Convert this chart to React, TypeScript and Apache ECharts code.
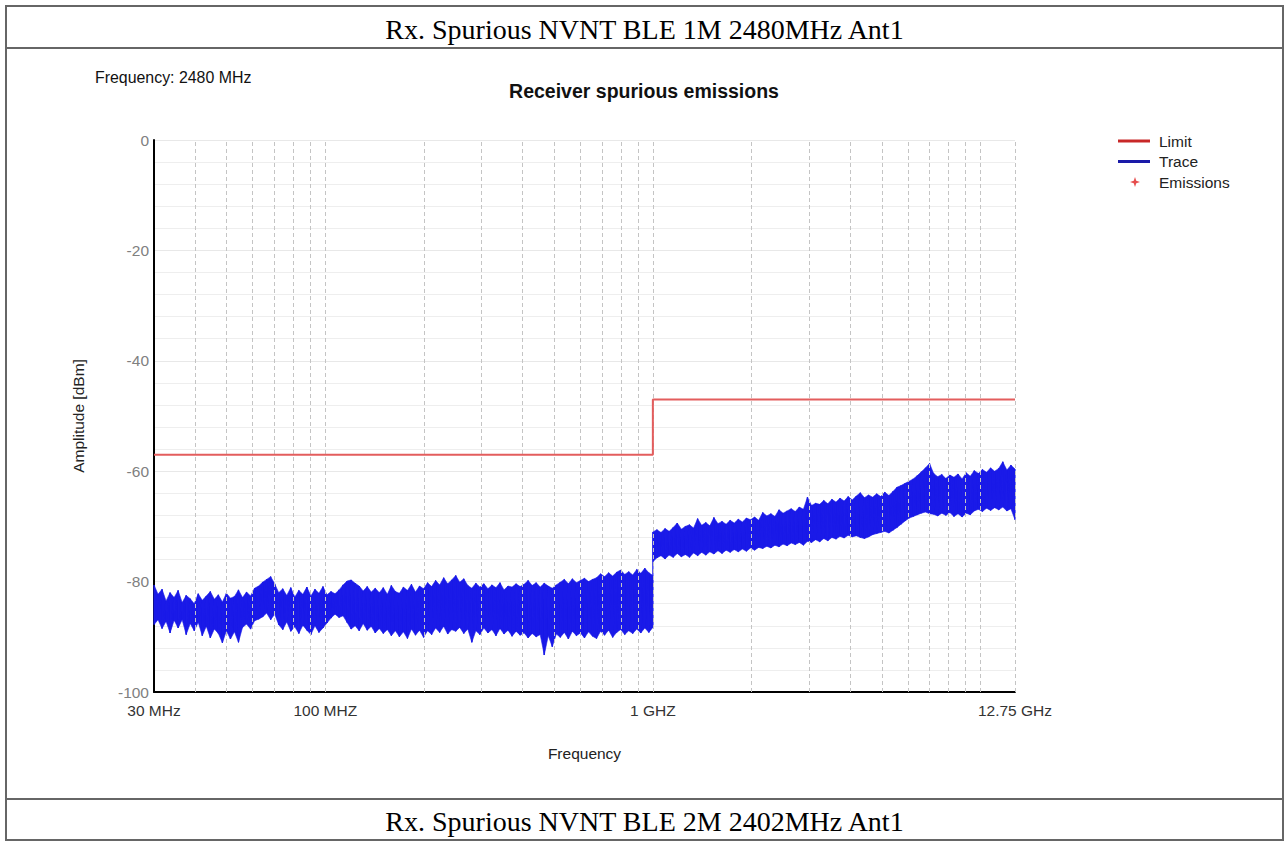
import React, { useEffect, useRef } from "react";
import * as echarts from "echarts";

// ---- Data ----
const headerTitle = "Rx. Spurious NVNT BLE 1M 2480MHz Ant1";
const footerTitle = "Rx. Spurious NVNT BLE 2M 2402MHz Ant1";
const chartTitle = "Receiver spurious emissions";
const freqNote = "Frequency: 2480 MHz";

const yMin = -100;
const yMax = 0;
const yStep = 20;

const xMinMHz = 30;
const xMaxMHz = 12750;

const xTickFreqs = [30, 100, 1000, 12750];
const xTickLabels = ["30 MHz", "100 MHZ", "1 GHZ", "12.75 GHz"];

const gridFreqs = [
  40, 50, 60, 70, 80, 90, 100, 200, 300, 400, 500, 600, 700, 800, 900, 1000,
  2000, 3000, 4000, 5000, 6000, 7000, 8000, 9000, 10000, 12750,
];

const limitFreq = [30, 1000, 1000, 12750];
const limitDbm = [-57, -57, -47, -47];

// Sweep 1: 30 MHz - 1 GHz, peak / floor per display bin (dBm)
const sweep1Start = 30;
const sweep1Stop = 1000;
const sweep1Peak = [
  -80.6, -82.3, -81.4, -83.5, -82.0, -82.9, -81.6, -83.8, -82.5, -83.1,
  -84.0, -82.2, -83.4, -82.6, -81.8, -83.2, -82.4, -83.7, -82.1, -83.0,
  -82.7, -81.5, -82.9, -81.9, -82.6, -81.2, -80.8, -80.1, -79.6, -79.1,
  -80.4, -82.0, -81.3, -82.5, -81.1, -82.8, -81.6, -82.3, -81.0, -82.6,
  -81.4, -82.1, -80.9, -82.4, -81.8, -82.2, -81.5, -80.6, -79.9, -79.7,
  -80.3, -80.8, -81.7, -80.9, -81.9, -81.2, -82.0, -81.1, -82.3, -80.7,
  -81.8, -82.1, -81.0, -81.6, -80.5, -81.9, -80.8, -81.3, -80.2, -80.9,
  -79.8, -80.6, -79.3, -80.4, -79.7, -78.9, -80.1, -79.5, -80.7, -81.2,
  -80.3, -81.0, -80.4, -81.3, -80.6, -81.1, -80.2, -81.5, -80.8, -81.0,
  -80.4, -80.9, -80.5, -79.8, -80.7, -80.2, -81.0, -80.3, -80.8, -81.2,
  -80.6, -80.1, -79.6, -80.4, -79.5, -80.2, -79.8, -79.4, -80.0, -79.6,
  -79.3, -78.6, -79.1, -78.4, -79.0, -78.3, -77.9, -78.7, -78.2, -78.8,
  -77.8, -78.5, -77.6, -78.4, -78.9,
];
const sweep1Floor = [
  -87.8, -86.9, -88.5, -87.2, -89.3, -87.0, -88.4, -86.9, -89.6, -87.6,
  -88.9, -87.4, -89.8, -88.1, -90.2, -88.6, -89.4, -91.1, -88.9, -90.4,
  -89.1, -91.0, -88.3, -87.7, -88.6, -87.1, -86.8, -86.4, -85.7, -86.9,
  -85.9, -87.8, -88.7, -87.3, -89.0, -88.2, -89.4, -87.9, -88.8, -89.6,
  -88.0, -89.2, -88.4, -87.5, -86.6, -85.9, -86.5, -86.2, -87.4, -88.6,
  -88.0, -88.9, -87.6, -88.8, -88.1, -89.3, -88.5, -89.4, -88.7, -89.8,
  -88.9, -90.0, -89.1, -90.3, -88.6, -89.7, -88.8, -90.1, -88.9, -89.6,
  -88.4, -89.2, -88.1, -89.5, -88.7, -89.0, -88.3, -89.4, -88.6, -91.0,
  -88.9, -89.6, -88.4, -89.3, -88.7, -89.8, -88.5, -89.5, -88.8, -89.9,
  -89.0, -89.7, -89.3, -90.2, -89.4, -90.0, -89.6, -93.3, -89.8, -91.8,
  -89.5, -90.1, -89.2, -90.4, -89.0, -89.8, -89.3, -90.2, -89.1, -89.9,
  -90.3, -89.0, -89.7, -88.8, -90.1, -89.2, -88.7, -89.6, -88.9, -89.4,
  -88.6, -89.3, -88.4, -89.2, -88.3,
];

// Sweep 2: 1 GHz - 12.75 GHz
const sweep2Start = 1000;
const sweep2Stop = 12750;
const sweep2Peak = [
  -71.0, -70.6, -71.1, -70.4, -70.9, -70.2, -69.4, -70.5, -70.0, -69.7,
  -70.3, -68.6, -69.8, -69.3, -69.9, -68.4, -69.5, -69.1, -69.6, -68.9,
  -69.4, -68.7, -69.2, -68.5, -68.8, -68.3, -68.9, -67.5, -68.1, -67.7,
  -68.2, -67.0, -67.6, -67.2, -66.8, -67.3, -66.5, -66.9, -64.7, -66.2,
  -65.8, -66.0, -65.3, -65.9, -65.1, -65.6, -64.9, -65.4, -64.6, -65.2,
  -64.5, -63.9, -64.8, -64.3, -64.7, -64.1, -64.6, -63.8, -64.4, -63.7,
  -62.9, -62.6, -62.2, -61.8, -61.4, -60.8, -60.1, -59.4, -58.6, -60.4,
  -61.0, -60.6, -61.3, -60.7, -61.1, -60.5, -61.4, -60.3, -60.9, -59.9,
  -60.4, -59.7, -60.2, -59.4, -60.0, -59.5, -58.3, -59.8, -58.9, -59.6,
];
const sweep2Floor = [
  -76.4, -75.7, -75.3, -75.9, -75.2, -75.6, -74.9, -75.5, -75.1, -75.6,
  -74.8, -75.3, -74.7, -75.2, -74.6, -75.0, -74.4, -74.9, -74.3, -74.7,
  -74.2, -74.6, -74.1, -74.5, -73.9, -74.3, -73.8, -74.0, -73.6, -73.9,
  -73.4, -73.7, -73.2, -73.5, -73.0, -73.3, -72.9, -73.4, -72.7, -72.9,
  -72.4, -72.8, -72.2, -72.6, -72.0, -72.3, -71.8, -72.1, -71.6, -71.9,
  -71.7, -72.0, -72.2, -71.9, -71.5, -71.3, -71.1, -70.9, -71.2, -70.7,
  -70.2, -69.6, -69.0, -68.5, -68.2, -67.9, -67.6, -67.4, -67.7, -67.8,
  -68.1, -67.6, -68.0, -67.5, -68.2, -67.7, -68.3, -67.6, -67.9, -67.2,
  -66.9, -67.3, -66.7, -67.1, -66.6, -67.0, -66.5, -67.2, -66.8, -68.8,
];

// ---- Helpers ----
function sweepFreqs(start: number, stop: number, n: number): number[] {
  const out: number[] = [];
  for (let i = 0; i < n; i++) out.push(start * Math.pow(stop / start, i / (n - 1)));
  return out;
}

type Bin = { f: number; peak: number; floor: number };

function sweepBins(start: number, stop: number, peak: number[], floor: number[]): Bin[] {
  return sweepFreqs(start, stop, peak.length).map((f, i) => ({ f, peak: peak[i], floor: floor[i] }));
}

const SANS = '"Liberation Sans", Arial, sans-serif';
const SERIF = '"Liberation Serif", "Times New Roman", serif';
const TRACE_BLUE = "#1a1ae8";

export default function App() {
  const ref = useRef<HTMLDivElement>(null);

  useEffect(() => {
    if (!ref.current) return;
    const chart = echarts.init(ref.current, undefined, { renderer: "svg" });

    const sweeps = [
      sweepBins(sweep1Start, sweep1Stop, sweep1Peak, sweep1Floor),
      sweepBins(sweep2Start, sweep2Stop, sweep2Peak, sweep2Floor),
    ];

    // zig-zag trace line (peak/floor per bin)
    const traceLine: number[][] = [];
    // band segments: [f0, peak0, floor0, f1, peak1, floor1]
    const bandSegs: number[][] = [];
    sweeps.forEach((bins) => {
      bins.forEach((b, i) => {
        traceLine.push([b.f, b.peak]);
        traceLine.push([b.f, b.floor]);
        if (i < bins.length - 1) {
          const n = bins[i + 1];
          bandSegs.push([b.f, b.peak, b.floor, n.f, n.peak, n.floor]);
        }
      });
    });

    const markData: any[] = [];
    markData.push({
      xAxis: xTickFreqs[0],
      lineStyle: { color: "rgba(0,0,0,0)" },
      label: { show: true, formatter: xTickLabels[0] },
    });
    gridFreqs.forEach((f) => {
      const li = xTickFreqs.indexOf(f);
      if (li >= 0) {
        markData.push({ xAxis: f, label: { show: true, formatter: xTickLabels[li] } });
      } else {
        markData.push({ xAxis: f });
      }
    });

    const option: any = {
      animation: false,
      backgroundColor: "#ffffff",
      textStyle: { fontFamily: SANS },
      grid: { left: 154, top: 140, right: 270, bottom: 149, containLabel: false },
      xAxis: {
        type: "log",
        logBase: 10,
        min: xMinMHz,
        max: xMaxMHz,
        name: "Frequency",
        nameLocation: "middle",
        nameGap: 53,
        nameTextStyle: { fontSize: 15.5, color: "#222", fontFamily: SANS },
        axisLine: { show: true, onZero: false, lineStyle: { color: "#000", width: 2 } },
        axisTick: { show: false },
        axisLabel: { show: false },
        splitLine: { show: false },
        minorSplitLine: { show: false },
      },
      yAxis: {
        type: "value",
        min: yMin,
        max: yMax,
        interval: yStep,
        name: "Amplitude [dBm]",
        nameLocation: "middle",
        nameGap: 68,
        nameTextStyle: { fontSize: 15.5, color: "#222", fontFamily: SANS },
        axisLine: { show: true, onZero: false, lineStyle: { color: "#000", width: 2 } },
        axisTick: { show: false },
        axisLabel: { color: "#808080", fontSize: 15.5, margin: 5, fontFamily: SANS },
        splitLine: { show: true, lineStyle: { color: "#e8e8e8", width: 1 } },
        minorTick: { show: false, splitNumber: 5 },
        minorSplitLine: { show: true, lineStyle: { color: "#eeeeee", width: 1 } },
      },
      legend: [
        {
          orient: "vertical",
          left: 1118,
          top: 133,
          padding: 0,
          itemWidth: 32,
          itemHeight: 3,
          itemGap: 4.5,
          selectedMode: false,
          icon: "rect",
          textStyle: { fontSize: 15.5, color: "#222", fontFamily: SANS, lineHeight: 16, padding: [0, 0, 0, 4] },
          data: [
            { name: "Limit", itemStyle: { color: "#c82828" } },
            { name: "Trace", itemStyle: { color: "#1a1aa8" } },
          ],
        },
        {
          orient: "vertical",
          left: 1130,
          top: 174,
          padding: 0,
          itemWidth: 10,
          itemHeight: 10,
          selectedMode: false,
          textStyle: { fontSize: 15.5, color: "#222", fontFamily: SANS, lineHeight: 16, padding: [0, 0, 0, 14] },
          data: [
            {
              name: "Emissions",
              icon: "path://M0,-10 L2.5,-2.5 L10,0 L2.5,2.5 L0,10 L-2.5,2.5 L-10,0 L-2.5,-2.5 Z",
              itemStyle: { color: "#e02020" },
            },
          ],
        },
      ],
      graphic: [
        {
          type: "rect",
          shape: { x: 6, y: 6, width: 1277, height: 834 },
          style: { fill: "none", stroke: "#666", lineWidth: 2 },
          silent: true,
        },
        {
          type: "line",
          shape: { x1: 6, y1: 48, x2: 1283, y2: 48 },
          style: { stroke: "#666", lineWidth: 2 },
          silent: true,
        },
        {
          type: "line",
          shape: { x1: 6, y1: 799, x2: 1283, y2: 799 },
          style: { stroke: "#666", lineWidth: 2 },
          silent: true,
        },
        {
          type: "text",
          x: 644.5,
          y: 29,
          style: {
            text: headerTitle,
            fill: "#000",
            fontSize: 28,
            fontFamily: SERIF,
            align: "center",
            verticalAlign: "middle",
          },
        },
        {
          type: "text",
          x: 644.5,
          y: 821,
          style: {
            text: footerTitle,
            fill: "#000",
            fontSize: 28,
            fontFamily: SERIF,
            align: "center",
            verticalAlign: "middle",
          },
        },
        {
          type: "text",
          x: 95,
          y: 77,
          style: {
            text: freqNote,
            fill: "#111",
            fontSize: 15.9,
            fontFamily: SANS,
            align: "left",
            verticalAlign: "middle",
          },
        },
        {
          type: "text",
          x: 644,
          y: 91,
          style: {
            text: chartTitle,
            fill: "#111",
            fontSize: 19.5,
            fontWeight: "bold",
            fontFamily: SANS,
            align: "center",
            verticalAlign: "middle",
          },
        },
      ],
      series: [
        {
          name: "Limit",
          type: "line",
          z: 6,
          showSymbol: false,
          symbol: "none",
          color: "#e35d5d",
          lineStyle: { color: "#e35d5d", width: 2 },
          data: limitFreq.map((f, i) => [f, limitDbm[i]]),
        },
        {
          name: "TraceBand",
          type: "custom",
          z: 2,
          silent: true,
          clip: true,
          encode: { x: [0, 3], y: [1, 2, 4, 5] },
          data: bandSegs,
          renderItem: (params: any, api: any) => {
            const a = api.coord([api.value(0), api.value(1)]);
            const b = api.coord([api.value(3), api.value(4)]);
            const c = api.coord([api.value(3), api.value(5)]);
            const d = api.coord([api.value(0), api.value(2)]);
            return {
              type: "polygon",
              shape: { points: [a, b, c, d] },
              style: { fill: TRACE_BLUE, stroke: TRACE_BLUE, lineWidth: 0.6 },
            };
          },
        },
        {
          name: "Trace",
          type: "line",
          z: 3,
          showSymbol: false,
          symbol: "none",
          color: TRACE_BLUE,
          lineStyle: { color: TRACE_BLUE, width: 1.2 },
          data: traceLine,
        },
        {
          name: "GridLines",
          type: "line",
          z: 5,
          silent: true,
          showSymbol: false,
          symbol: "none",
          lineStyle: { opacity: 0 },
          data: [[xMinMHz, yMin]],
          markLine: {
            silent: true,
            symbol: ["none", "none"],
            animation: false,
            lineStyle: { color: "#c4c4c4", type: [4, 3], width: 1 },
            label: {
              show: false,
              position: "start",
              distance: 10,
              color: "#333",
              fontSize: 15.5,
              fontFamily: SANS,
            },
            emphasis: { disabled: true },
            data: markData,
          },
        },
        {
          name: "Emissions",
          type: "scatter",
          z: 7,
          color: "#e02020",
          data: [],
        },
      ],
    };

    chart.setOption(option);
    return () => chart.dispose();
  }, []);

  return (
    <div
      ref={ref}
      style={{ position: "absolute", left: 0, top: 0, width: 1285, height: 841, background: "#fff" }}
    />
  );
}
